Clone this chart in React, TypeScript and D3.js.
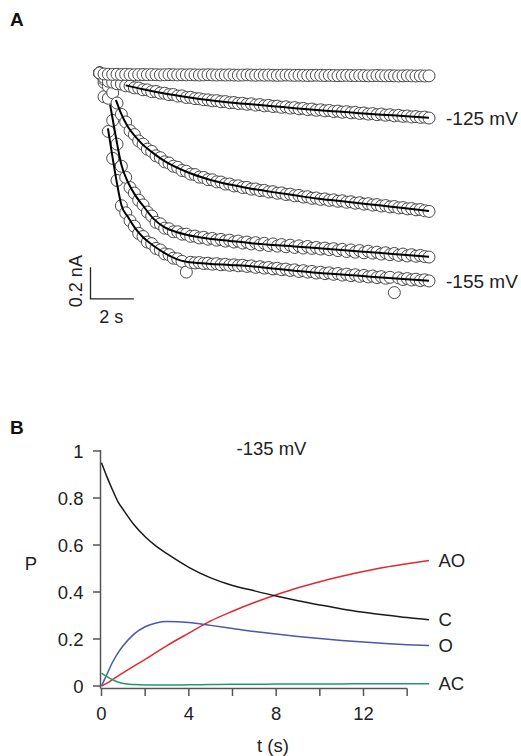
import React from "react";
import * as d3 from "d3";

// ---------- Panel A: current traces (nA), sampled every 0.2 s ----------
const SAMPLE_DT = 0.2;
const traceLabels = ["", "-125 mV", "", "", "-155 mV"];

const trace1 = [0, -0.006, -0.008, -0.009, -0.008, -0.010, -0.009, -0.010, -0.011, -0.010,
  -0.010, -0.011, -0.010, -0.011, -0.012, -0.011, -0.010, -0.011, -0.012, -0.011,
  -0.012, -0.011, -0.012, -0.013, -0.012, -0.011, -0.012, -0.013, -0.012, -0.013,
  -0.012, -0.013, -0.014, -0.013, -0.012, -0.013, -0.014, -0.013, -0.014, -0.013,
  -0.014, -0.015, -0.014, -0.013, -0.014, -0.015, -0.014, -0.015, -0.016, -0.015,
  -0.014, -0.015, -0.016, -0.015, -0.016, -0.017, -0.016, -0.015, -0.016, -0.017,
  -0.016, -0.017, -0.018, -0.017, -0.016, -0.017, -0.018, -0.017, -0.018, -0.019,
  -0.018, -0.017, -0.018, -0.019, -0.018, -0.019, -0.018];

const trace2 = [0, -0.028, -0.052, -0.058, -0.068, -0.07, -0.081, -0.083, -0.094, -0.095,
  -0.106, -0.107, -0.118, -0.117, -0.127, -0.128, -0.137, -0.136, -0.146, -0.145,
  -0.155, -0.154, -0.162, -0.163, -0.169, -0.17, -0.176, -0.175, -0.182, -0.181,
  -0.188, -0.187, -0.193, -0.192, -0.198, -0.195, -0.203, -0.2, -0.208, -0.205,
  -0.212, -0.21, -0.217, -0.214, -0.222, -0.219, -0.227, -0.224, -0.232, -0.228,
  -0.236, -0.233, -0.24, -0.237, -0.244, -0.241, -0.248, -0.245, -0.252, -0.249,
  -0.256, -0.253, -0.26, -0.257, -0.264, -0.26, -0.267, -0.264, -0.271, -0.268,
  -0.274, -0.272, -0.278, -0.276, -0.281, -0.279, -0.285];

const trace3 = [0, -0.04, -0.085, -0.125, -0.19, -0.262, -0.31, -0.365, -0.39, -0.43,
  -0.45, -0.482, -0.496, -0.524, -0.536, -0.562, -0.57, -0.59, -0.597, -0.617,
  -0.622, -0.64, -0.643, -0.659, -0.661, -0.675, -0.676, -0.689, -0.69, -0.703,
  -0.703, -0.715, -0.714, -0.725, -0.724, -0.735, -0.734, -0.744, -0.743, -0.753,
  -0.751, -0.761, -0.759, -0.769, -0.767, -0.777, -0.775, -0.785, -0.783, -0.793,
  -0.791, -0.8, -0.797, -0.806, -0.803, -0.812, -0.809, -0.818, -0.815, -0.824,
  -0.821, -0.83, -0.827, -0.836, -0.833, -0.842, -0.839, -0.848, -0.845, -0.854,
  -0.852, -0.86, -0.858, -0.866, -0.864, -0.872, -0.876];

const trace4 = [0, -0.06, -0.16, -0.3, -0.45, -0.59, -0.66, -0.725, -0.76, -0.805,
  -0.835, -0.88, -0.905, -0.945, -0.955, -0.982, -0.986, -1.005, -1.005, -1.02,
  -1.02, -1.034, -1.032, -1.044, -1.04, -1.052, -1.047, -1.058, -1.053, -1.064,
  -1.058, -1.07, -1.064, -1.076, -1.07, -1.082, -1.074, -1.088, -1.078, -1.092,
  -1.082, -1.096, -1.086, -1.1, -1.09, -1.104, -1.094, -1.108, -1.098, -1.11,
  -1.104, -1.114, -1.108, -1.118, -1.112, -1.124, -1.116, -1.13, -1.12, -1.134,
  -1.124, -1.138, -1.128, -1.14, -1.134, -1.146, -1.138, -1.15, -1.142, -1.154,
  -1.146, -1.158, -1.15, -1.16, -1.155, -1.162, -1.165];

const trace5 = [0, -0.15, -0.37, -0.54, -0.68, -0.84, -0.885, -0.935, -0.97, -1.015,
  -1.035, -1.07, -1.08, -1.11, -1.12, -1.145, -1.15, -1.172, -1.176, -1.192,
  -1.26, -1.198, -1.202, -1.2, -1.206, -1.204, -1.21, -1.207, -1.214, -1.211,
  -1.217, -1.214, -1.22, -1.217, -1.224, -1.221, -1.23, -1.226, -1.235, -1.231,
  -1.24, -1.236, -1.245, -1.241, -1.25, -1.246, -1.256, -1.251, -1.26, -1.256,
  -1.266, -1.261, -1.27, -1.265, -1.274, -1.269, -1.279, -1.273, -1.283, -1.277,
  -1.287, -1.281, -1.291, -1.285, -1.295, -1.289, -1.299, -1.293, -1.39, -1.297,
  -1.307, -1.301, -1.31, -1.305, -1.314, -1.309, -1.316];

// exponential fits (black lines)
const fit2T = [1.2, 2, 3, 4, 5, 6, 7, 8, 9, 10, 11, 12, 13, 14, 15.2];
const fit2V = [-0.078, -0.103, -0.13, -0.152, -0.171, -0.186, -0.198, -0.21, -0.223, -0.234, -0.244, -0.254, -0.264, -0.272, -0.284];
const fit3T = [0.75, 1, 1.3, 1.6, 2, 2.5, 3, 4, 5, 6, 7, 8, 9, 10, 11, 12, 13, 14, 15.2];
const fit3V = [-0.171, -0.26, -0.34, -0.395, -0.455, -0.51, -0.558, -0.625, -0.672, -0.706, -0.732, -0.754, -0.774, -0.794, -0.809, -0.824, -0.839, -0.854, -0.874];
const fit4T = [0.48, 0.7, 1.0, 1.3, 1.6, 2, 2.5, 3, 3.5, 4, 5, 6, 7, 8, 9, 10, 11, 12, 13, 14, 15.2];
const fit4V = [-0.2, -0.37, -0.58, -0.69, -0.765, -0.84, -0.925, -0.977, -1.005, -1.024, -1.048, -1.063, -1.077, -1.088, -1.098, -1.108, -1.118, -1.129, -1.14, -1.15, -1.163];
const fit5T = [0.38, 0.6, 0.8, 1.0, 1.3, 1.6, 2, 2.5, 3, 3.5, 4, 5, 6, 7, 8, 9, 10, 11, 12, 13, 14, 15.2];
const fit5V = [-0.35, -0.54, -0.70, -0.835, -0.91, -0.975, -1.04, -1.095, -1.14, -1.175, -1.195, -1.207, -1.215, -1.223, -1.237, -1.251, -1.264, -1.274, -1.284, -1.294, -1.304, -1.315];

// ---------- Panel B: state occupancies at -135 mV ----------
const tB = [0, 0.25, 0.5, 0.75, 1, 1.5, 2, 2.5, 3, 4, 5, 6, 7, 8, 9, 10, 11, 12, 13, 14, 15];
const pC = [0.95, 0.89, 0.835, 0.785, 0.75, 0.685, 0.635, 0.595, 0.563, 0.505, 0.46, 0.428, 0.405, 0.383, 0.363, 0.345, 0.328, 0.314, 0.302, 0.291, 0.282];
const pAO = [0, 0.012, 0.027, 0.042, 0.057, 0.086, 0.113, 0.143, 0.172, 0.225, 0.277, 0.318, 0.355, 0.388, 0.418, 0.444, 0.467, 0.487, 0.505, 0.52, 0.534];
const pO = [0, 0.05, 0.1, 0.14, 0.172, 0.222, 0.252, 0.268, 0.274, 0.27, 0.258, 0.245, 0.232, 0.221, 0.211, 0.202, 0.194, 0.187, 0.181, 0.176, 0.172];
const pAC = [0.055, 0.04, 0.027, 0.017, 0.011, 0.006, 0.004, 0.004, 0.004, 0.005, 0.006, 0.007, 0.007, 0.008, 0.008, 0.009, 0.009, 0.01, 0.01, 0.01, 0.01];
const seriesB = [
  { name: "AO", values: pAO, color: "#e0292f" },
  { name: "C", values: pC, color: "#1a1a1a" },
  { name: "O", values: pO, color: "#4a56b0" },
  { name: "AC", values: pAC, color: "#1f9a6c" },
];
const yTicksB = [0, 0.2, 0.4, 0.6, 0.8, 1];
const xTicksB = [0, 2, 4, 6, 8, 10, 12, 14];
const xLabelsB = [0, 4, 8, 12];

const FONT = "'Liberation Sans', Arial, Helvetica, sans-serif";

export default function App() {
  // Panel A scales
  const xA = d3.scaleLinear().domain([0, 15.2]).range([99.7, 429]);
  const yA = d3.scaleLinear().domain([0, -1]).range([73, 231]);
  const traces = [trace1, trace2, trace3, trace4, trace5];
  const fits = [
    { t: fit2T, v: fit2V },
    { t: fit3T, v: fit3V },
    { t: fit4T, v: fit4V },
    { t: fit5T, v: fit5V },
  ];
  const fitLine = d3
    .line<[number, number]>()
    .x((d) => xA(d[0]))
    .y((d) => yA(d[1]))
    .curve(d3.curveMonotoneX);

  // Panel B scales
  const xB = d3.scaleLinear().domain([0, 15]).range([101.5, 429]);
  const yB = d3.scaleLinear().domain([0, 1]).range([686, 451]);
  const lineB = d3
    .line<[number, number]>()
    .x((d) => xB(d[0]))
    .y((d) => yB(d[1]))
    .curve(d3.curveMonotoneX);
  const axisX = 100.5;
  const axisY = 688.5;

  // scale bar
  const sbX = 90.5;
  const sbY = yA(-1.43);
  const sbLen = yA(0) - yA(0.2);
  const sbW = xA(2) - xA(0);

  const order = [4, 3, 2, 1, 0];

  return (
    <svg
      width={521}
      height={756}
      style={{ position: "absolute", left: 0, top: 0, background: "#fff" }}
      fontFamily={FONT}
    >
      <rect width={521} height={756} fill="#fff" />
      {/* Panel labels */}
      <text x={10} y={26} fontSize={19} fontWeight="bold" fill="#111">A</text>
      <text x={10} y={434} fontSize={19} fontWeight="bold" fill="#111">B</text>

      {/* Panel A circles */}
      {order.map((k) => (
        <g key={"tr" + k}>
          {traces[k].map((v, i) => (
            <circle
              key={i}
              cx={xA(i * SAMPLE_DT)}
              cy={yA(v)}
              r={6}
              fill="#fff"
              stroke="#4a4a4a"
              strokeWidth={1}
            />
          ))}
        </g>
      ))}
      {/* Fits */}
      {fits.map((f, k) => (
        <path
          key={"fit" + k}
          d={fitLine(f.t.map((t, i) => [t, f.v[i]] as [number, number])) || ""}
          fill="none"
          stroke="#000"
          strokeWidth={2}
        />
      ))}
      {/* trace labels */}
      {traces.map((tr, k) =>
        traceLabels[k] ? (
          <text
            key={"lab" + k}
            x={446}
            y={yA(tr[tr.length - 1]) + 7}
            fontSize={19}
            fill="#222"
          >
            {traceLabels[k]}
          </text>
        ) : null
      )}
      {/* scale bar */}
      <path
        d={`M${sbX},${sbY - sbLen}V${sbY}H${sbX + sbW}`}
        fill="none"
        stroke="#222"
        strokeWidth={1.3}
      />
      <text
        transform={`translate(${sbX - 9},${sbY - sbLen / 2 - 2}) rotate(-90)`}
        textAnchor="middle"
        fontSize={18}
        fill="#222"
      >
        0.2 nA
      </text>
      <text x={sbX + sbW / 2 - 1} y={sbY + 24.5} textAnchor="middle" fontSize={18} fill="#222">
        2 s
      </text>

      {/* Panel B */}
      <text x={271.5} y={455} textAnchor="middle" fontSize={18.5} fill="#222">-135 mV</text>
      {/* axes */}
      <line x1={axisX} x2={axisX} y1={yB(1) - 1} y2={axisY} stroke="#555" strokeWidth={1.5} />
      <line x1={axisX} x2={xB(14)} y1={axisY} y2={axisY} stroke="#555" strokeWidth={1.5} />
      {yTicksB.map((t) => (
        <g key={"yt" + t}>
          <line x1={axisX - 7.5} x2={axisX} y1={yB(t)} y2={yB(t)} stroke="#555" strokeWidth={1.5} />
          <text x={axisX - 17} y={yB(t) + 6.5} textAnchor="end" fontSize={18.5} fill="#222">
            {String(t)}
          </text>
        </g>
      ))}
      {xTicksB.map((t) => (
        <line key={"xt" + t} x1={xB(t)} x2={xB(t)} y1={axisY} y2={axisY + 7.5} stroke="#555" strokeWidth={1.5} />
      ))}
      {xLabelsB.map((t) => (
        <text key={"xl" + t} x={xB(t)} y={720} textAnchor="middle" fontSize={18.5} fill="#222">
          {String(t)}
        </text>
      ))}
      <text x={31} y={570} textAnchor="middle" fontSize={18.5} fill="#222">P</text>
      <text x={273} y={752} textAnchor="middle" fontSize={18.5} fill="#222">t (s)</text>
      {seriesB.map((s) => (
        <path
          key={s.name}
          d={lineB(tB.map((t, i) => [t, s.values[i]] as [number, number])) || ""}
          fill="none"
          stroke={s.color}
          strokeWidth={1.5}
        />
      ))}
      {seriesB.map((s) => (
        <text
          key={"l" + s.name}
          x={438.5}
          y={yB(s.values[s.values.length - 1]) + 6.5}
          fontSize={18.5}
          fill="#222"
        >
          {s.name}
        </text>
      ))}
    </svg>
  );
}
